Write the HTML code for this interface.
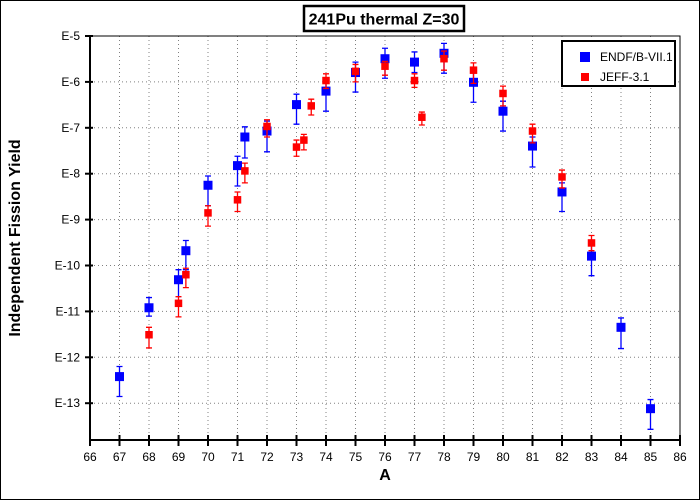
<!DOCTYPE html>
<html><head><meta charset="utf-8"><style>
html,body{margin:0;padding:0;background:#fff}
svg{display:block;font-family:"Liberation Sans",Arial,sans-serif}
</style></head><body>
<svg id="chart" width="700" height="500" viewBox="0 0 700 500">
<rect x="0.5" y="0.5" width="699" height="499" fill="#fff" stroke="#000"/>
<g>
<rect x="304" y="6" width="160" height="25" fill="#fff" stroke="#000" stroke-width="2.5"/>
<text x="384" y="24.5" text-anchor="middle" font-size="16" font-weight="bold">241Pu thermal Z=30</text>
</g>
<g id="grid"></g>
<g id="axes"></g>
<g id="marks"></g>
<text x="385" y="480" text-anchor="middle" font-size="16" font-weight="bold">A</text>
<text transform="translate(20,238) rotate(-90)" text-anchor="middle" font-size="16" font-weight="bold">Independent Fission Yield</text>
<g>
<rect x="562" y="41" width="113" height="45" fill="#fff" stroke="#000" stroke-width="2"/>
<g>
<rect x="580" y="52" width="10" height="10" fill="#0000ff"/>
<text x="600" y="61" font-size="12">ENDF/B-VII.1</text>
</g>
<g>
<rect x="581" y="73" width="8" height="8" fill="#ff0000"/>
<text x="600" y="81" font-size="12">JEFF-3.1</text>
</g>
</g>
</svg>
<script>
const xTicks = [66,67,68,69,70,71,72,73,74,75,76,77,78,79,80,81,82,83,84,85,86];
const yTickExps = [-5,-6,-7,-8,-9,-10,-11,-12,-13];
const yTickLabels = ["E-5","E-6","E-7","E-8","E-9","E-10","E-11","E-12","E-13"];

const endfA  = [67,68,69,69.25,70,71,71.25,72,73,74,75,76,77,78,79,80,81,82,83,84,85];
const endfY  = [3.8e-13,1.2e-11,4.9e-11,2.1e-10,5.6e-9,1.5e-8,6.3e-8,8.5e-8,3.2e-7,6.3e-7,1.6e-6,3.2e-6,2.7e-6,4.2e-6,9.8e-7,2.3e-7,4.0e-8,4.0e-9,1.6e-10,4.5e-12,7.6e-14];
const endfLo = [1.4e-13,7.9e-12,2.1e-11,8.1e-11,2.0e-9,5.4e-9,2.2e-8,3.0e-8,1.2e-7,2.3e-7,6.0e-7,1.2e-6,1.6e-6,1.55e-6,3.6e-7,8.5e-8,1.4e-8,1.5e-9,6.0e-11,1.55e-12,2.7e-14];
const endfHi = [6.3e-13,2.0e-11,8.1e-11,3.5e-10,8.9e-9,2.4e-8,1.05e-7,1.4e-7,5.4e-7,1.0e-6,2.7e-6,5.4e-6,4.5e-6,6.9e-6,1.6e-6,3.8e-7,6.3e-8,6.3e-9,2.7e-10,7.2e-12,1.2e-13];

const jeffA  = [68,69,69.25,70,71,71.25,72,73,73.25,73.5,74,75,76,77,77.25,78,79,80,81,82,83];
const jeffY  = [3.1e-12,1.5e-11,6.3e-11,1.4e-9,2.7e-9,1.15e-8,1.07e-7,3.8e-8,5.4e-8,3.0e-7,1.07e-6,1.7e-6,2.2e-6,1.07e-6,1.7e-7,3.2e-6,1.8e-6,5.6e-7,8.5e-8,8.5e-9,3.1e-10];
const jeffLo = [1.6e-12,7.6e-12,3.3e-11,7.2e-10,1.5e-9,6.3e-9,6.3e-8,2.4e-8,3.3e-8,1.9e-7,7.2e-7,1.0e-6,1.4e-6,7.6e-7,1.15e-7,1.8e-6,9.3e-7,3.0e-7,4.7e-8,4.9e-9,2.1e-10];
const jeffHi = [4.5e-12,2.1e-11,8.7e-11,2.0e-9,4.0e-9,1.7e-8,1.5e-7,5.4e-8,7.2e-8,4.2e-7,1.5e-6,2.4e-6,2.8e-6,1.5e-6,2.2e-7,4.7e-6,2.6e-6,8.1e-7,1.2e-7,1.2e-8,4.5e-10];

const NS = "http://www.w3.org/2000/svg";
const X0 = 90, X1 = 680, Y0 = 36, Y1 = 440;
const xMin = 66, xMax = 86, decPx = 45.9;
function xs(a){ return X0 + (a - xMin) * (X1 - X0) / (xMax - xMin); }
function ys(v){ return Y0 + (-5 - Math.log10(v)) * decPx; }
function yExp(e){ return Y0 + (-5 - e) * decPx; }
function mk(tag, attrs, parent){
  const el = document.createElementNS(NS, tag);
  for (const k in attrs) el.setAttribute(k, attrs[k]);
  parent.appendChild(el);
  return el;
}
const grid = document.getElementById('grid');
const axes = document.getElementById('axes');
const marks = document.getElementById('marks');

xTicks.forEach(function(t){
  const x = xs(t);
  if (t > xMin && t < xMax) {
    const g = mk('line', {x1:x, x2:x, y1:Y0, y2:Y1, stroke:'#808080', 'stroke-dasharray':'1,3'}, grid);
    
    
  }
  const tk = mk('line', {x1:x, x2:x, y1:Y1-5, y2:Y1+6, stroke:'#000', 'stroke-width':2}, axes);
  
  
  const lb = mk('text', {x:x, y:461, 'text-anchor':'middle', 'font-size':12}, axes);
  lb.textContent = t;
  
  
});
yTickExps.forEach(function(e, i){
  const y = yExp(e);
  if (i > 0) {
    const g = mk('line', {x1:X0, x2:X1, y1:y, y2:y, stroke:'#808080', 'stroke-dasharray':'1,3'}, grid);
    
    
  }
  const tk = mk('line', {x1:X0-5, x2:X0+3, y1:y, y2:y, stroke:'#000', 'stroke-width':2}, axes);
  
  
  const lb = mk('text', {x:80, y:y+4, 'text-anchor':'end', 'font-size':12}, axes);
  lb.textContent = yTickLabels[i];
  
  
});
const frame = mk('rect', {x:X0, y:Y0, width:X1-X0, height:Y1-Y0, fill:'none', stroke:'#000', 'stroke-width':1}, axes);


const xa = mk('line', {x1:X0, x2:X1, y1:Y1, y2:Y1, stroke:'#000', 'stroke-width':2}, axes);


const ya = mk('line', {x1:X0, x2:X0, y1:Y0, y2:Y1, stroke:'#000', 'stroke-width':2}, axes);



function series(A, Y, Lo, Hi, color, size, name){
  const g = mk('g', {}, marks);
  
  
  for (let i = 0; i < A.length; i++){
    const x = xs(A[i]);
    const eb = mk('path', {d:'M'+x+','+ys(Hi[i])+'V'+ys(Lo[i])+'M'+(x-3)+','+ys(Hi[i])+'H'+(x+3)+'M'+(x-3)+','+ys(Lo[i])+'H'+(x+3), stroke:color, 'stroke-width':1.3, fill:'none'}, g);
    
    
    const p = mk('rect', {x:x-size/2, y:ys(Y[i])-size/2, width:size, height:size, fill:color}, g);
    
    
  }
}
series(endfA, endfY, endfLo, endfHi, '#0000ff', 9, 'endf');
series(jeffA, jeffY, jeffLo, jeffHi, '#ff0000', 7.5, 'jeff');
</script>
</body></html>
